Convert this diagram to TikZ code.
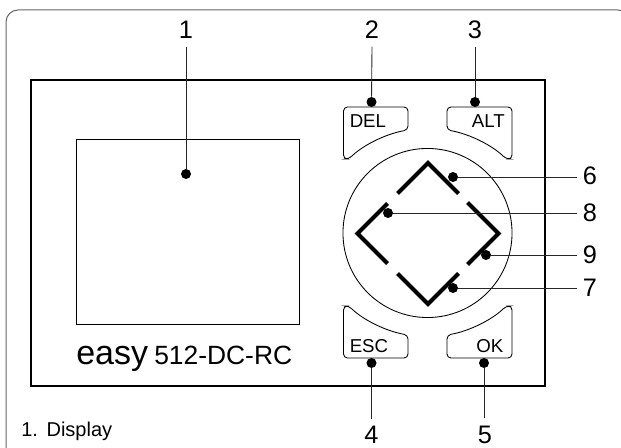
\documentclass[tikz,border=0pt]{standalone}
\usepackage{fontspec}
\setmainfont{Liberation Sans}
\tikzset{
  x=0.75pt,y=-0.75pt,
  hair/.style={line width=0.65pt,black!85},
  frameline/.style={line width=0.75pt,black!60},
  thickbox/.style={line width=1.6pt,black},
  key/.style={line width=0.65pt,black,rounded corners=3pt},
  pad/.style={line width=3pt,black,line cap=butt,line join=miter},
  callout/.style={circle,fill=black,inner sep=0pt,minimum size=7.5pt},
  num/.style={inner sep=0pt,font=\fontsize{19}{19}\selectfont},
  keylabel/.style={inner sep=0pt,font=\fontsize{14}{14}\selectfont},
}
\begin{document}
\begin{tikzpicture}
\useasboundingbox (0,0) rectangle (621,448);
% outer frame, its right side falls outside the picture
\begin{scope}
\clip (0,0) rectangle (621,448);
\draw[frameline,rounded corners=9pt] (6,460) -- (6,10) -- (630,10) -- (630,460);
\end{scope}
% housing and display
\draw[thickbox] (31,80) rectangle (545,386);
\draw[line width=0.75pt] (76,140) rectangle (299,325);
% keys
\draw[key] (343.5,107) -- (408,107) -- (408,130) .. controls (385,134) and (362,146) .. (349,159) -- (343.5,159) -- cycle;
\draw[key] (512,107) -- (447,107) -- (447,130) .. controls (470,134) and (493,146) .. (506,159) -- (512,159) -- cycle;
\draw[key] (343.5,358) -- (408,358) -- (408,335) .. controls (385,331) and (362,319) .. (349,306) -- (343.5,306) -- cycle;
\draw[key] (512,358) -- (447,358) -- (447,335) .. controls (470,331) and (493,319) .. (506,306) -- (512,306) -- cycle;
\node[keylabel,anchor=west] (del) at (349.5,121) {DEL};
\node[keylabel,anchor=east] (alt) at (505,121) {ALT};
\node[keylabel,anchor=west] (esc) at (349.5,346) {ESC};
\node[keylabel,anchor=east] (ok) at (503.5,346) {OK};
% ring and direction pad
\draw[line width=0.65pt] (427.5,233) circle[radius=63.4pt];
\draw[pad] (387.5,203.5) -- (357.5,233.5) -- (387.5,263.5);
\draw[pad] (397.5,193.5) -- (428,163) -- (458.5,193.5);
\draw[pad] (467.5,202.5) -- (498.5,233.5) -- (467.5,264.5);
\draw[pad] (458.5,273.5) -- (428,304) -- (397.5,273.5);
% brand
\node[inner sep=0pt,anchor=base west,font=\fontsize{25.5}{26}\selectfont] (brand) at (76,365) {easy};
\node[inner sep=0pt,anchor=base west,font=\fontsize{19.8}{20}\selectfont] (model) at (154,365) {512-DC-RC};
% callouts
\node[num] (n1) at (186,29.5) {1};
\node[num] (n2) at (372,29.5) {2};
\node[num] (n3) at (475,29.5) {3};
\node[num] (n4) at (371.5,434.5) {4};
\node[num] (n5) at (485,434.5) {5};
\node[num] (n6) at (590,176) {6};
\node[num] (n8) at (590,213) {8};
\node[num] (n9) at (590,255) {9};
\node[num] (n7) at (590,288) {7};
\node[callout] (d1) at (186,174) {};
\node[callout] (d2) at (371.5,102) {};
\node[callout] (d3) at (475,102) {};
\node[callout] (d4) at (371.5,363) {};
\node[callout] (d5) at (484,363) {};
\node[callout] (d6) at (453,177) {};
\node[callout] (d8) at (388,213) {};
\node[callout] (d9) at (486,255) {};
\node[callout] (d7) at (453,288) {};
\draw[hair] (n1.south) ++(0,9) -- (d1);
\draw[hair] (n2.south) ++(0,8) -- (d2);
\draw[hair] (n3.south) ++(0,8) -- (d3);
\draw[hair] (371.5,419) -- (d4);
\draw[hair] (484,418) -- (d5);
\draw[hair] (n6.west) ++(-6,1) -- (d6);
\draw[hair] (n8.west) ++(-6,0) -- (d8);
\draw[hair] (n9.west) ++(-6,0) -- (d9);
\draw[hair] (n7.west) ++(-6,0) -- (d7);
% caption
\node[inner sep=0pt,anchor=base west,font=\fontsize{15}{15}\selectfont] (cap) at (21,437) {1.\hspace{6.5pt}Display};
\end{tikzpicture}
\end{document}
